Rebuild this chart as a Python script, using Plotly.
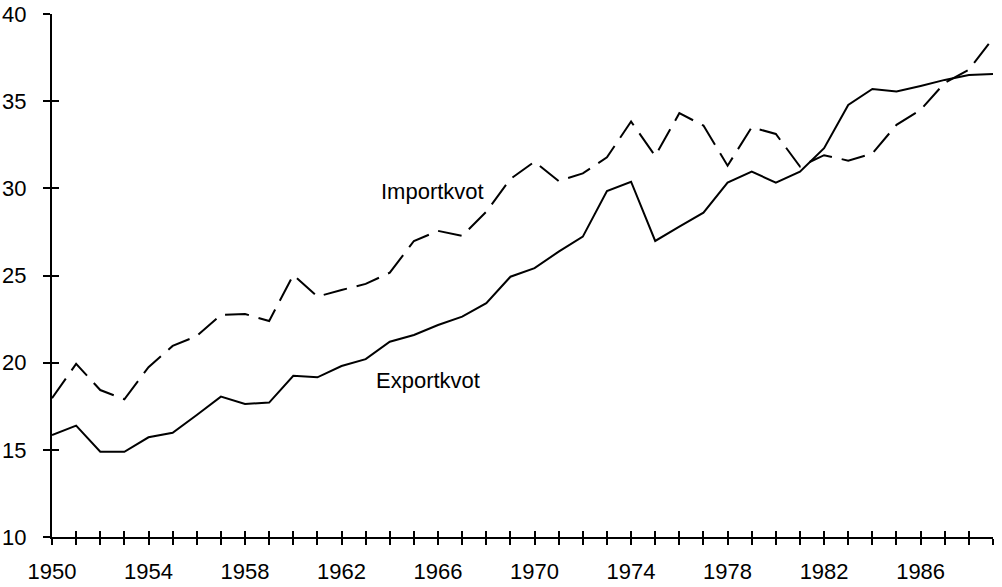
import plotly.graph_objects as go

years = list(range(1950, 1990))
exportkvot = [15.85, 16.39, 14.89, 14.89, 15.72, 15.98, 17.0, 18.05, 17.63, 17.71,
              19.25, 19.16, 19.81, 20.2, 21.2, 21.59, 22.16, 22.64, 23.41, 24.93,
              25.42, 26.37, 27.23, 29.85, 30.38, 26.98, 27.8, 28.6, 30.33, 30.96,
              30.33, 30.96, 32.3, 34.78, 35.7, 35.55, 35.87, 36.22, 36.5, 36.56]
importkvot = [17.96, 19.93, 18.43, 17.9, 19.74, 20.96, 21.53, 22.74, 22.79, 22.39,
              25.03, 23.79, 24.17, 24.52, 25.16, 26.98, 27.56, 27.27, 28.66, 30.54,
              31.53, 30.42, 30.86, 31.78, 33.83, 31.86, 34.31, 33.6, 31.3, 33.5,
              33.12, 31.25, 31.9, 31.59, 32.0, 33.64, 34.5, 36.05, 36.8, 38.6]
x_tick_vals = years
x_tick_text = [str(y) if (y - 1950) % 4 == 0 else "" for y in years]
y_tick_vals = [10, 15, 20, 25, 30, 35, 40]

FONT = "Liberation Sans, Arial, Helvetica, sans-serif"

fig = go.Figure()
fig.add_trace(go.Scatter(x=years, y=exportkvot, mode="lines", name="Exportkvot",
                         line=dict(color="black", width=2), showlegend=False,
                         hoverinfo="skip"))
fig.add_trace(go.Scatter(x=years, y=importkvot, mode="lines", name="Importkvot",
                         xaxis="x2", yaxis="y2",
                         line=dict(color="black", width=2, dash="24px,10px"),
                         showlegend=False, hoverinfo="skip"))

common_x = dict(range=[1950, 1989], tickvals=x_tick_vals, showgrid=False, zeroline=False,
                automargin=False, tickcolor="black", tickwidth=1.5, ticklen=6)
common_y = dict(range=[10, 40], tickvals=y_tick_vals, showgrid=False, zeroline=False,
                automargin=False, tickcolor="black", tickwidth=1.5, ticklen=7)

fig.update_layout(
    width=1002, height=587,
    margin=dict(l=52, r=9, t=14, b=50),
    paper_bgcolor="white", plot_bgcolor="white",
    font=dict(family=FONT, size=22, color="black"),
    xaxis=dict(**common_x, ticktext=x_tick_text, ticks="outside", showline=True,
               linecolor="black", linewidth=2, ticklabelstandoff=8),
    yaxis=dict(**common_y, ticks="outside", showline=True, linecolor="black",
               linewidth=2, ticklabelstandoff=12),
    xaxis2=dict(**common_x, overlaying="x", anchor="y2", ticks="inside",
                showticklabels=False, showline=False),
    yaxis2=dict(**common_y, overlaying="y", anchor="x2", ticks="inside",
                showticklabels=False, showline=False),
    annotations=[
        dict(x=1965.75, y=29.8, xref="x", yref="y", text="Importkvot", showarrow=False,
             font=dict(family=FONT, size=22, color="black")),
        dict(x=1965.6, y=19.0, xref="x", yref="y", text="Exportkvot", showarrow=False,
             font=dict(family=FONT, size=22, color="black")),
    ],
)

# remove the browser's default 8px body margin so the figure fills the window exactly
fig.write_html("out.html", config={"displayModeBar": False},
               post_script="document.body.style.margin='0';document.body.style.padding='0';")
